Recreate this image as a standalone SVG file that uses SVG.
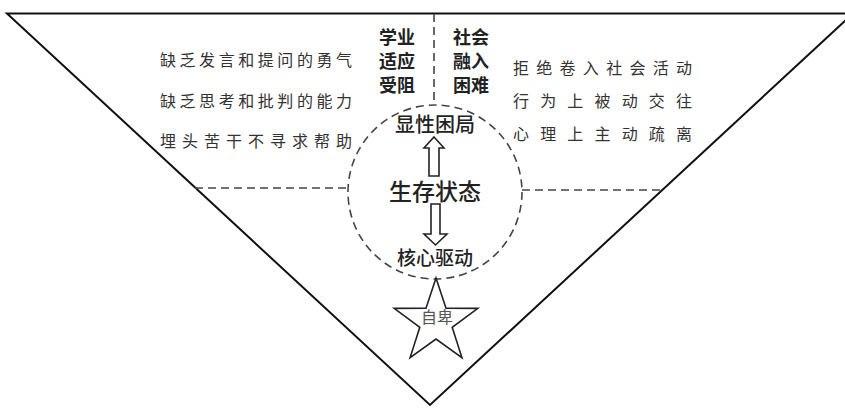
<svg xmlns="http://www.w3.org/2000/svg" width="845" height="408" viewBox="0 0 845 408">
<style>
.edge{fill:none;stroke:#111;stroke-width:2}
.dash{fill:none;stroke:#444;stroke-width:1.6;stroke-dasharray:8 5}
.list{font-family:"Noto Sans CJK SC","Noto Sans",sans-serif;font-size:16px;fill:#333}
.lab{font-family:"Noto Sans CJK SC","Noto Sans",sans-serif;font-size:18px;font-weight:bold;fill:#222;text-anchor:middle}
.mid{font-family:"Noto Sans CJK SC","Noto Sans",sans-serif;font-weight:500;fill:#222;text-anchor:middle}
.arrow{fill:#fff;stroke:#222;stroke-width:1.6;stroke-linejoin:miter}
</style>
<rect width="845" height="408" fill="#fff"/>
<g id="frame">
<polygon class="edge" points="7,13.5 853,13.5 430,405"/>
</g>
<g id="connectors">
<line x1="434" y1="14" x2="434" y2="105" class="dash"/>
<line x1="195" y1="188" x2="348" y2="188" class="dash"/>
<line x1="522" y1="190" x2="661" y2="190" class="dash"/>
<path class="arrow" d="M434,137 L444,148 L439,148 L439,176 L429,176 L429,148 L424,148 Z"/>
<path class="arrow" d="M431,204 L440,204 L440,234 L447,234 L435.5,245 L424,234 L431,234 Z"/>
</g>
<g id="circle">
<circle cx="435" cy="192" r="87" class="dash"/>
<text class="mid" x="435" y="132" font-size="20">显性困局</text>
<text class="mid" x="435" y="200" font-size="23">生存状态</text>
<text class="mid" x="435" y="265" font-size="19">核心驱动</text>
</g>
<g id="star">
<polygon points="436,278 446,308.2 477.8,308.4 452.2,327.3 461.9,357.6 436,339 410.1,357.6 419.8,327.3 394.2,308.4 426,308.2" fill="#fff" stroke="#222" stroke-width="1.6"/>
<text class="mid" x="437" y="323" font-size="16" style="font-weight:normal;fill:#555">自卑</text>
</g>
<g id="academic">
<text class="lab" x="397" y="44">学业</text>
<text class="lab" x="397" y="68">适应</text>
<text class="lab" x="397" y="92">受阻</text>
</g>
<g id="social">
<text class="lab" x="471" y="44">社会</text>
<text class="lab" x="471" y="68">融入</text>
<text class="lab" x="471" y="92">困难</text>
</g>
<g id="left-list">
<text class="list" x="160" y="66" textLength="192" lengthAdjust="spacing">缺乏发言和提问的勇气</text>
<text class="list" x="160" y="107" textLength="192" lengthAdjust="spacing">缺乏思考和批判的能力</text>
<text class="list" x="160" y="147" textLength="192" lengthAdjust="spacing">埋头苦干不寻求帮助</text>
</g>
<g id="right-list">
<text class="list" x="513" y="74" textLength="179" lengthAdjust="spacing">拒绝卷入社会活动</text>
<text class="list" x="513" y="107" textLength="179" lengthAdjust="spacing">行为上被动交往</text>
<text class="list" x="513" y="140" textLength="179" lengthAdjust="spacing">心理上主动疏离</text>
</g>
</svg>
